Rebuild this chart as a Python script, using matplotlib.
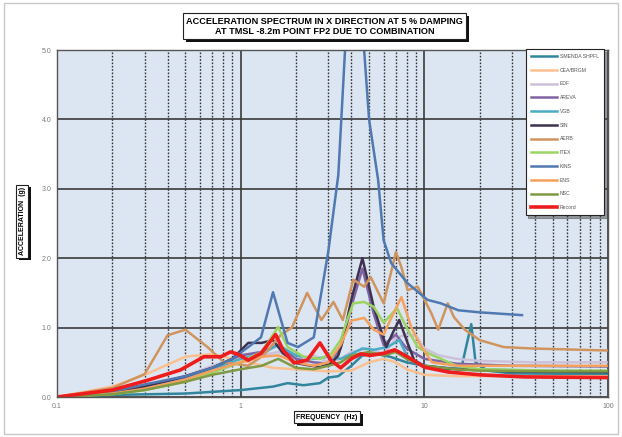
import matplotlib
matplotlib.use("Agg")
import matplotlib.pyplot as plt
import matplotlib.patheffects as pe
from matplotlib.patches import Rectangle
from matplotlib.ticker import FixedLocator, NullFormatter

plt.rcParams['font.family'] = ['Liberation Sans', 'DejaVu Sans']

# spectra: frequency (Hz) / acceleration (g) per source
f_smenda = [0.1, 0.2, 0.5, 1, 1.5, 1.8, 2.2, 2.7, 3.0, 3.4, 4.0, 4.6, 5.5, 6.5, 8, 10, 13, 16, 18, 19, 22, 30, 100]
a_smenda = [0.0, 0.03, 0.05, 0.1, 0.15, 0.2, 0.17, 0.2, 0.28, 0.3, 0.45, 0.6, 0.62, 0.58, 0.5, 0.45, 0.38, 0.45, 1.05, 0.5, 0.38, 0.34, 0.33]

f_cea = [0.1, 0.2, 0.3, 0.5, 0.7, 0.9, 1.1, 1.5, 2, 3, 4, 5, 6, 7, 8, 10, 15, 20, 50, 100]
a_cea = [0, 0.15, 0.32, 0.58, 0.62, 0.55, 0.5, 0.42, 0.4, 0.37, 0.38, 0.5, 0.55, 0.5, 0.4, 0.32, 0.3, 0.3, 0.3, 0.3]

f_edf = [0.1, 0.2, 0.3, 0.5, 0.7, 1.0, 1.3, 1.6, 2.0, 2.5, 3.0, 3.5, 4, 5, 6, 7, 8, 9, 10, 12, 15, 20, 40, 100]
a_edf = [0, 0.06, 0.15, 0.3, 0.45, 0.58, 0.6, 0.65, 0.55, 0.6, 0.5, 0.55, 0.65, 0.7, 0.62, 0.85, 0.9, 0.88, 0.7, 0.6, 0.55, 0.52, 0.5, 0.5]

f_areva = [0.1, 0.2, 0.3, 0.5, 0.7, 1.0, 1.3, 1.6, 2.0, 2.5, 3.0, 3.5, 4.0, 4.6, 5.3, 6.0, 7.0, 8.0, 9, 10, 15, 30, 100]
a_areva = [0, 0.06, 0.14, 0.28, 0.42, 0.6, 0.65, 0.75, 0.55, 0.5, 0.48, 0.7, 1.3, 1.85, 1.2, 0.75, 0.9, 0.7, 0.62, 0.55, 0.48, 0.45, 0.44]

f_vgb = [0.1, 0.2, 0.3, 0.5, 0.7, 1.0, 1.3, 1.6, 2.0, 2.5, 3.0, 3.5, 4.0, 4.6, 5.3, 6.3, 7.3, 8.1, 9, 10, 13, 20, 40, 100]
a_vgb = [0, 0.05, 0.12, 0.25, 0.4, 0.55, 0.62, 0.75, 0.6, 0.55, 0.58, 0.55, 0.62, 0.7, 0.68, 0.72, 0.82, 0.58, 0.5, 0.45, 0.42, 0.4, 0.38, 0.37]

f_sin = [0.1, 0.2, 0.3, 0.5, 0.7, 0.9, 1.1, 1.3, 1.5, 1.7, 2.0, 2.3, 2.7, 3.1, 3.4, 3.6, 4.0, 4.6, 5.3, 6.2, 6.8, 7.3, 8.1, 8.8, 10, 15, 30, 100]
a_sin = [0, 0.07, 0.15, 0.3, 0.42, 0.55, 0.78, 0.78, 0.82, 0.63, 0.49, 0.46, 0.43, 0.48, 0.6, 0.82, 1.4, 2.0, 1.3, 0.72, 0.95, 1.11, 0.78, 0.53, 0.45, 0.4, 0.37, 0.36]

f_aerb = [0.1, 0.2, 0.3, 0.4, 0.5, 0.66, 0.81, 1.1, 1.33, 1.66, 1.9, 2.3, 2.75, 3.2, 3.6, 4.1, 4.7, 5.1, 6.0, 7.0, 7.5, 8.1, 9.2, 10.9, 11.9, 13.4, 14.5, 16.6, 20, 27, 38, 100]
a_aerb = [0, 0.13, 0.33, 0.89, 0.97, 0.72, 0.5, 0.45, 0.6, 0.9, 1.0, 1.5, 1.11, 1.37, 1.11, 1.69, 1.59, 1.73, 1.35, 2.09, 1.87, 1.54, 1.59, 1.21, 0.97, 1.35, 1.15, 0.97, 0.82, 0.72, 0.7, 0.67]

f_itex = [0.1, 0.2, 0.3, 0.5, 0.7, 1.0, 1.3, 1.6, 1.8, 2.2, 2.7, 3.1, 3.5, 3.8, 4.1, 4.7, 5.3, 6, 7.1, 8, 9.2, 10.5, 15, 20, 50, 100]
a_itex = [0, 0.04, 0.1, 0.22, 0.35, 0.5, 0.65, 1.01, 0.72, 0.58, 0.55, 0.62, 0.82, 1.11, 1.35, 1.37, 1.3, 1.07, 1.28, 1.0, 0.72, 0.63, 0.45, 0.4, 0.38, 0.38]

f_kins = [0.1, 0.2, 0.3, 0.5, 0.7, 0.9, 1.1, 1.29, 1.5, 1.8, 2.05, 2.5, 3.0, 3.4, 3.7, 4.2, 4.7, 5.0, 5.6, 6.0, 6.6, 8.1, 10.4, 12.3, 15.3, 20, 34]
a_kins = [0, 0.08, 0.18, 0.3, 0.42, 0.55, 0.72, 0.86, 1.51, 0.78, 0.72, 0.86, 2.1, 3.2, 5.0, 6.0, 5.0, 4.0, 3.13, 2.26, 1.93, 1.64, 1.4, 1.35, 1.25, 1.22, 1.18]

f_ens = [0.1, 0.2, 0.3, 0.5, 0.7, 1.0, 1.3, 1.6, 2, 2.5, 3, 3.5, 4.0, 4.7, 5.3, 6, 6.5, 7.5, 8.5, 9.5, 11, 15, 20, 50, 100]
a_ens = [0, 0.05, 0.12, 0.25, 0.38, 0.5, 0.58, 0.6, 0.5, 0.45, 0.5, 0.75, 1.1, 1.14, 0.97, 0.9, 1.1, 1.44, 1.0, 0.75, 0.5, 0.45, 0.45, 0.45, 0.45]

f_nsc = [0.1, 0.2, 0.3, 0.5, 0.7, 1.0, 1.3, 1.6, 2, 2.5, 3, 3.5, 4, 5, 6, 7, 8, 10, 15, 20, 50, 100]
a_nsc = [0, 0.04, 0.1, 0.22, 0.32, 0.4, 0.45, 0.55, 0.42, 0.4, 0.45, 0.5, 0.6, 0.65, 0.6, 0.65, 0.55, 0.45, 0.4, 0.38, 0.37, 0.37]

f_record = [0.1, 0.2, 0.31, 0.47, 0.63, 0.78, 0.88, 0.96, 1.1, 1.29, 1.55, 1.7, 1.95, 2.3, 2.7, 3.1, 3.5, 4.0, 4.5, 5.1, 6.0, 6.9, 8.1, 10, 13.5, 20, 35, 100]
a_record = [0, 0.1, 0.24, 0.39, 0.58, 0.58, 0.65, 0.62, 0.53, 0.63, 0.9, 0.68, 0.49, 0.53, 0.78, 0.53, 0.42, 0.55, 0.62, 0.6, 0.63, 0.68, 0.58, 0.43, 0.36, 0.32, 0.29, 0.28]

series = [
    ('SMENDA SHPFL', f_smenda, a_smenda, '#31859c', 1.8),
    ('CEA/BRGM', f_cea, a_cea, '#fac08f', 1.8),
    ('EDF', f_edf, a_edf, '#ccc1da', 1.8),
    ('AREVA', f_areva, a_areva, '#8064a2', 1.8),
    ('VGB', f_vgb, a_vgb, '#4bacc6', 1.8),
    ('SIN', f_sin, a_sin, '#3f3151', 1.8),
    ('AERB', f_aerb, a_aerb, '#d0945e', 1.8),
    ('ITEX', f_itex, a_itex, '#9bd463', 1.8),
    ('KINS', f_kins, a_kins, '#4f79b0', 1.8),
    ('ENS', f_ens, a_ens, '#f5a15e', 1.8),
    ('NSC', f_nsc, a_nsc, '#7f9a42', 1.8),
    ('Record', f_record, a_record, '#ee1c1c', 2.6),
]

fig = plt.figure(figsize=(6.22, 4.37), dpi=100)
ax = fig.add_axes([0.0916, 0.0915, 0.886, 0.794])
ax.set_facecolor('#dce6f2')

for name, f, a, col, lw in series:
    ax.plot(f, a, color=col, lw=lw, label=name, solid_joinstyle='round')

ax.set_xscale('log')
ax.set_xlim(0.1, 100)
ax.set_ylim(0, 5)

# grid: solid at decades / each 1.0 g, dashed at intermediate frequencies
minor = [m * d for d in (0.1, 1, 10) for m in range(2, 10)]
ax.xaxis.set_minor_locator(FixedLocator(minor))
ax.xaxis.set_minor_formatter(NullFormatter())
ax.set_xticks([0.1, 1, 10, 100])
ax.set_xticklabels(['0.1', '1', '10', '100'])
ax.set_yticks([0, 1, 2, 3, 4, 5])
ax.set_yticklabels(['0.0', '1.0', '2.0', '3.0', '4.0', '5.0'])
ax.grid(which='major', color='#3a3a3a', lw=1.2, ls='-')
ax.grid(which='minor', axis='x', color='#333333', lw=1.0, ls=(0, (1.2, 1.2)))
ax.set_axisbelow(True)
ax.tick_params(which='both', length=0, labelsize=5, colors='#7a7a7a', pad=4)
for s in ax.spines.values():
    s.set_color('#555555')
    s.set_linewidth(1.0)

leg = ax.legend(loc='upper right', bbox_to_anchor=(0.995, 1.008), fontsize=3.7,
                frameon=True, fancybox=False, shadow=True, handlelength=5,
                labelspacing=1.7, borderpad=1.0, handletextpad=0.6,
                borderaxespad=0.3)
leg.get_frame().set_edgecolor('#222222')
leg.get_frame().set_linewidth(0.8)
leg.get_frame().set_facecolor('white')
leg.get_frame().set_alpha(1)
for t in leg.get_texts():
    t.set_color('#555555')


def boxed(x, y, text, size, rot=0):
    t = fig.text(x, y, text, ha='center', va='center', fontsize=size,
                 fontweight='bold', rotation=rot, linespacing=1.15,
                 bbox=dict(boxstyle='square,pad=0.35', fc='white', ec='#222222', lw=0.8))
    t.get_bbox_patch().set_path_effects(
        [pe.withSimplePatchShadow(offset=(2, -2), shadow_rgbFace='#111111', alpha=1)])
    return t


boxed(0.522, 0.94, 'ACCELERATION SPECTRUM IN X DIRECTION AT 5 % DAMPING\n'
      'AT TMSL -8.2m POINT FP2 DUE TO COMBINATION', 6.6)
boxed(0.526, 0.045, 'FREQUENCY  (Hz)', 5)
boxed(0.036, 0.494, 'ACCELERATION  (g)', 5, rot=90)

fig.patches.append(Rectangle((0.006, 0.006), 0.988, 0.988, transform=fig.transFigure,
                             fill=False, ec='#c8c8c8', lw=1.0))

fig.savefig('out.png', dpi=100)
